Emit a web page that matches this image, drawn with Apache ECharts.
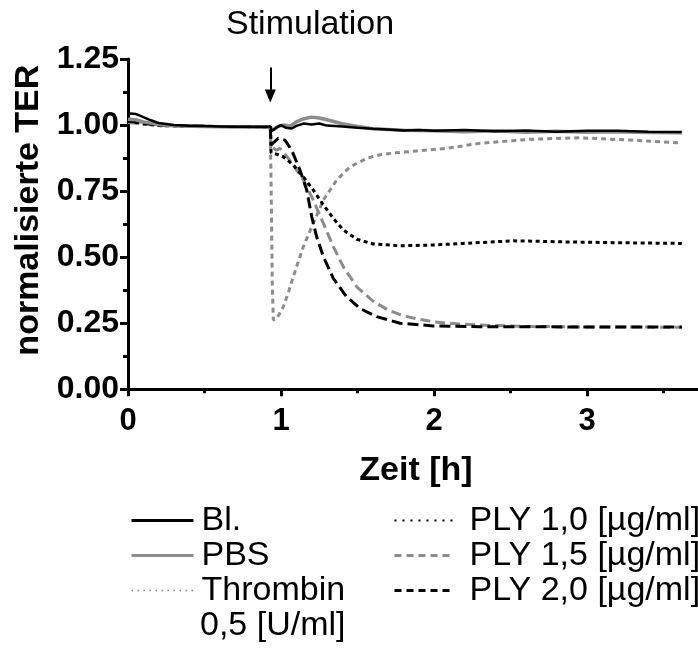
<!DOCTYPE html>
<html><head><meta charset="utf-8">
<script src="https://cdn.jsdelivr.net/npm/echarts@6.0.0/dist/echarts.min.js"></script>
<style>html,body{margin:0;padding:0;background:#fff}#c{width:698px;height:648px}</style>
</head><body><div id="c"></div>
<script>
// ---- data (time in h, normalised TER) ----
const stimulationTime = 0.93;
const arrowFrom = 1.218;
const arrowTo = 1.11;

const bl = [[0,1.045],[0.05,1.042],[0.1,1.03],[0.15,1.018],[0.2,1.008],[0.3,1.0],[0.4,0.997],[0.5,0.996],[0.6,0.995],[0.7,0.994],[0.8,0.994],[0.9,0.993],[0.93,0.995],[0.94,0.978],[0.97,0.99],[1.0,1.0],[1.03,0.99],[1.07,0.987],[1.1,0.997],[1.15,1.006],[1.2,1.002],[1.25,1.006],[1.3,0.998],[1.4,0.995],[1.5,0.99],[1.6,0.986],[1.7,0.983],[1.8,0.979],[1.9,0.981],[2.0,0.978],[2.2,0.981],[2.4,0.977],[2.6,0.979],[2.8,0.975],[3.0,0.978],[3.2,0.978],[3.4,0.975],[3.62,0.974]];
const pbs = [[0,1.022],[0.05,1.02],[0.1,1.012],[0.2,1.002],[0.3,0.997],[0.5,0.995],[0.7,0.993],[0.9,0.993],[0.93,0.99],[0.95,0.982],[0.98,0.995],[1.02,1.0],[1.06,0.996],[1.1,1.012],[1.15,1.024],[1.2,1.03],[1.25,1.027],[1.3,1.02],[1.4,1.005],[1.5,0.995],[1.6,0.986],[1.7,0.983],[1.8,0.98],[2.0,0.978],[2.2,0.975],[2.4,0.978],[2.6,0.973],[2.8,0.977],[3.0,0.973],[3.2,0.975],[3.4,0.972],[3.62,0.971]];
const thrombin = [[0,1.02],[0.1,1.01],[0.2,1.0],[0.4,0.997],[0.6,0.995],[0.8,0.995],[0.93,0.995],[0.937,0.7],[0.943,0.4],[0.95,0.262],[0.97,0.268],[0.99,0.285],[1.015,0.312],[1.05,0.37],[1.08,0.426],[1.146,0.54],[1.211,0.628],[1.277,0.716],[1.364,0.792],[1.451,0.842],[1.56,0.874],[1.65,0.888],[1.75,0.895],[1.887,0.902],[2.083,0.912],[2.3,0.931],[2.627,0.946],[2.954,0.952],[3.28,0.943],[3.62,0.932]];
const ply10 = [[0,1.015],[0.1,1.005],[0.2,0.998],[0.5,0.995],[0.8,0.994],[0.93,0.993],[0.935,0.895],[0.97,0.89],[1.015,0.88],[1.08,0.849],[1.146,0.804],[1.211,0.754],[1.277,0.698],[1.342,0.647],[1.407,0.603],[1.495,0.568],[1.603,0.55],[1.778,0.543],[1.995,0.546],[2.192,0.552],[2.518,0.562],[2.845,0.558],[3.172,0.555],[3.62,0.552]];
const ply15 = [[0,1.01],[0.1,1.004],[0.2,0.998],[0.5,0.995],[0.8,0.994],[0.93,0.994],[0.935,0.918],[0.972,0.905],[0.993,0.912],[1.015,0.899],[1.08,0.849],[1.146,0.792],[1.211,0.716],[1.277,0.628],[1.342,0.54],[1.407,0.464],[1.495,0.388],[1.603,0.333],[1.7,0.3],[1.8,0.278],[1.887,0.267],[2.0,0.255],[2.1,0.25],[2.3,0.243],[2.6,0.238],[3.0,0.236],[3.62,0.235]];
const ply20 = [[0,1.015],[0.1,1.008],[0.2,1.0],[0.5,0.995],[0.8,0.994],[0.93,0.995],[0.935,0.925],[0.955,0.935],[0.982,0.95],[1.026,0.943],[1.07,0.905],[1.124,0.83],[1.168,0.754],[1.201,0.653],[1.233,0.577],[1.277,0.502],[1.342,0.42],[1.429,0.35],[1.516,0.306],[1.625,0.275],[1.778,0.25],[1.995,0.24],[2.3,0.237],[3.0,0.236],[3.62,0.236]];

const names = ['Bl.','PBS','Thrombin 0,5 [U/ml]','PLY 1,0 [µg/ml]','PLY 1,5 [µg/ml]','PLY 2,0 [µg/ml]'];

// ---- styles ----
const FONT = 'Liberation Sans, Arial, Helvetica, sans-serif';
const GRAY = '#8c8c8c';
const BLACK = '#000';

function line(name, data, color, type, width) {
  return {
    name, type: 'line', data, symbol: 'none', showSymbol: false, smooth: false,
    lineStyle: { color, type, width, cap: 'butt' },
    itemStyle: { color },
    emphasis: { disabled: true }, silent: true, clip: true
  };
}

const series = [
  line(names[2], thrombin, GRAY, [5, 4], 3),
  line(names[4], ply15, GRAY, [10, 5], 3),
  line(names[3], ply10, BLACK, [4, 3.5], 3),
  line(names[5], ply20, BLACK, [11, 5], 3),
  line(names[1], pbs, GRAY, 'solid', 3.5),
  line(names[0], bl, BLACK, 'solid', 2.5)
];
series[5].markLine = {
  silent: true, animation: false,
  symbol: ['none', 'triangle'], symbolSize: [11, 13],
  label: { show: false },
  lineStyle: { color: BLACK, width: 2, type: 'solid' },
  emphasis: { disabled: true },
  data: [[{ coord: [stimulationTime, arrowFrom] }, { coord: [stimulationTime, arrowTo] }]]
};

const axisCommon = {
  type: 'value',
  axisLine: { show: true, onZero: false, lineStyle: { color: BLACK, width: 3 } },
  splitLine: { show: false },
  minorSplitLine: { show: false }
};

const legendText = { fontSize: 34, fontFamily: FONT, color: BLACK, lineHeight: 35 };
const hiddenSymbol = { color: 'rgba(0,0,0,0)', opacity: 0, borderWidth: 0 };

const option = {
  animation: false,
  backgroundColor: '#fff',
  title: {
    text: 'Stimulation', left: 226, top: 8, padding: 0,
    textStyle: { fontSize: 34, fontWeight: 'normal', fontFamily: FONT, color: BLACK }
  },
  grid: { left: 128, top: 59, width: 612, height: 330.3, containLabel: false, outerBoundsMode: 'none' },
  xAxis: Object.assign({}, axisCommon, {
    min: 0, max: 4, interval: 1,
    axisTick: { show: true, length: 7, lineStyle: { color: BLACK, width: 3 } },
    minorTick: { show: true, splitNumber: 2, length: 4, lineStyle: { color: BLACK, width: 3 } },
    axisLabel: { fontSize: 31, fontWeight: 'bold', fontFamily: FONT, color: BLACK, margin: 17, showMaxLabel: false },
    name: 'Zeit [h]', nameLocation: 'middle', nameGap: 64,
    nameTextStyle: { fontSize: 34, fontWeight: 'bold', fontFamily: FONT, color: BLACK, padding: [0, 36, 0, 0] }
  }),
  yAxis: Object.assign({}, axisCommon, {
    min: 0, max: 1.25, interval: 0.25,
    axisTick: { show: true, length: 8, lineStyle: { color: BLACK, width: 3 } },
    minorTick: { show: true, splitNumber: 2, length: 5, lineStyle: { color: BLACK, width: 3 } },
    axisLabel: { fontSize: 32, fontWeight: 'bold', fontFamily: FONT, color: BLACK, margin: 9, formatter: v => v.toFixed(2) },
    name: 'normalisierte TER', nameLocation: 'middle', nameGap: 80,
    nameTextStyle: { fontSize: 34, fontWeight: 'bold', fontFamily: FONT, color: BLACK, padding: [0, 0, 0, 28] }
  }),
  legend: [
    {
      orient: 'vertical', left: 130, top: 503, padding: 0, itemGap: 0,
      itemWidth: 62, itemHeight: 14, selectedMode: false,
      itemStyle: hiddenSymbol,
      textStyle: Object.assign({ padding: [0, 0, 0, 3] }, legendText),
      formatter: n => n === names[2] ? 'Thrombin' : n,
      data: [
        { name: names[0], itemStyle: hiddenSymbol, lineStyle: { color: BLACK, width: 3, type: 'solid' } },
        { name: names[1], itemStyle: hiddenSymbol, lineStyle: { color: GRAY, width: 3, type: 'solid' } },
        { name: names[2], itemStyle: hiddenSymbol, lineStyle: { color: GRAY, width: 1.5, type: [1.5, 4.5] } }
      ]
    },
    {
      orient: 'vertical', left: 393, top: 503, padding: 0, itemGap: 0,
      itemWidth: 60, itemHeight: 14, selectedMode: false,
      itemStyle: hiddenSymbol,
      textStyle: Object.assign({ padding: [0, 0, 0, 10] }, legendText),
      data: [
        { name: names[3], itemStyle: hiddenSymbol, lineStyle: { color: BLACK, width: 2, type: [2, 6] } },
        { name: names[4], itemStyle: hiddenSymbol, lineStyle: { color: GRAY, width: 3, type: [7, 5] } },
        { name: names[5], itemStyle: hiddenSymbol, lineStyle: { color: BLACK, width: 3, type: [7, 5] } }
      ]
    }
  ],
  graphic: [{
    type: 'text', left: 200, top: 608, silent: true,
    style: { text: '0,5 [U/ml]', fontSize: 34, fontFamily: FONT, fill: BLACK, lineHeight: 35 }
  }],
  series
};

const chart = echarts.init(document.getElementById('c'), null, { renderer: 'canvas' });
chart.setOption(option);
</script>
</body></html>
